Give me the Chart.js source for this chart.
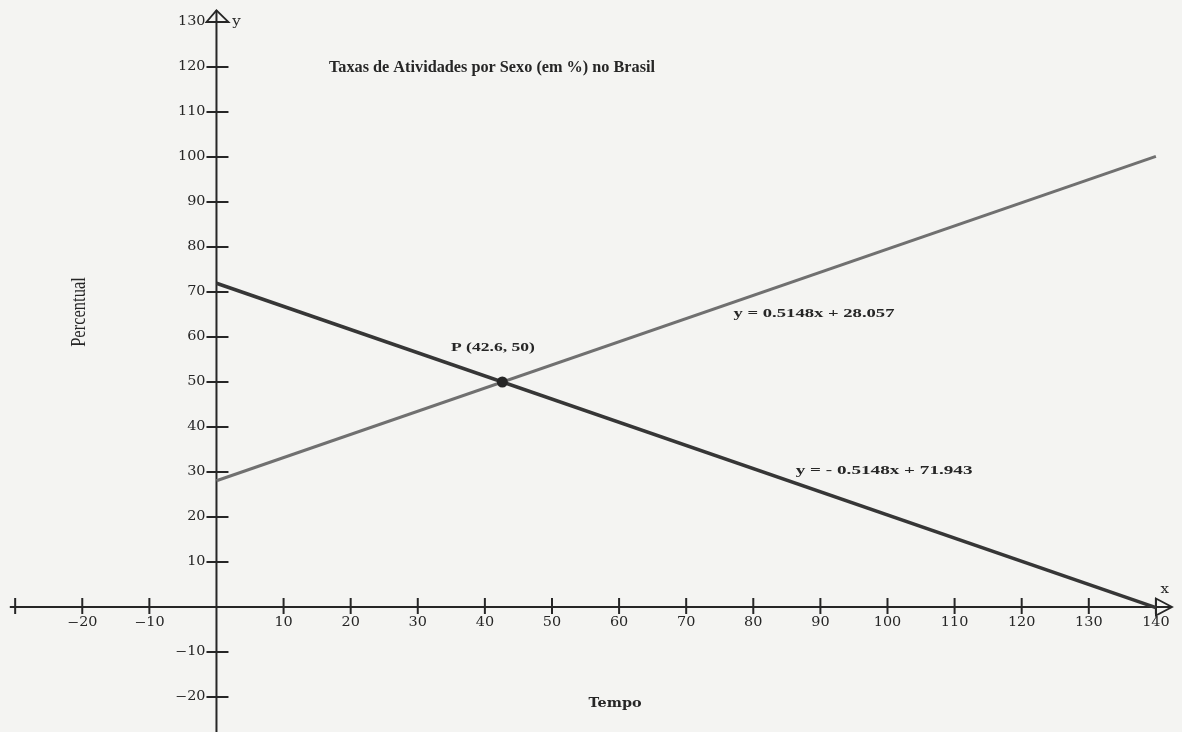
<!DOCTYPE html>
<html>
<head>
<meta charset="utf-8">
<script src="https://cdn.jsdelivr.net/npm/chart.js@4/dist/chart.umd.min.js"></script>
<style>
  html, body { margin: 0; padding: 0; background: #f4f4f2; overflow: hidden; }
  canvas { display: block; }
</style>
</head>
<body>
<canvas id="grafico" width="1182" height="732"></canvas>
<script>
// Tempo (eixo x) e taxas de atividade (%) das duas retas
const tempo = [0, 140];
const taxaFeminina = [28.06, 100.13];   // y = 0.5148x + 28.057
const taxaMasculina = [71.94, -0.13];   // y = - 0.5148x + 71.943
const pontoP = { x: 42.6, y: 50 };

// Marcas dos eixos
const marcasX = [-20, -10, 10, 20, 30, 40, 50, 60, 70, 80, 90, 100, 110, 120, 130, 140];
const marcasY = [-20, -10, 10, 20, 30, 40, 50, 60, 70, 80, 90, 100, 110, 120, 130];

// Textos
const titulo = 'Taxas de Atividades por Sexo (em %) no Brasil';
const rotuloX = 'Tempo';
const rotuloY = 'Percentual';
const equacaoFeminina = 'y = 0.5148x + 28.057';
const equacaoMasculina = 'y = - 0.5148x + 71.943';
const rotuloP = 'P (42.6, 50)';

const TINTA = '#262626';

function texto(ctx, s, px, py, fonte, alinhamento, estica) {
  ctx.save();
  ctx.font = fonte;
  ctx.fillStyle = TINTA;
  ctx.textAlign = alinhamento;
  ctx.textBaseline = 'middle';
  ctx.translate(px, py);
  ctx.scale(estica, 1);
  ctx.fillText(s, 0, 0);
  ctx.restore();
}

function segmento(ctx, x1, y1, x2, y2) {
  ctx.beginPath();
  ctx.moveTo(x1, y1);
  ctx.lineTo(x2, y2);
  ctx.stroke();
}

const fundo = {
  id: 'fundo',
  beforeDraw(chart) {
    const { ctx, width, height } = chart;
    ctx.save();
    ctx.fillStyle = '#f4f4f2';
    ctx.fillRect(0, 0, width, height);
    ctx.restore();
  }
};

// Eixos cartesianos cruzando na origem, com setas e marcas
const eixosCruzados = {
  id: 'eixosCruzados',
  beforeDatasetsDraw(chart) {
    const { ctx, chartArea, scales: { x, y } } = chart;
    const x0 = x.getPixelForValue(0);
    const y0 = y.getPixelForValue(0);
    ctx.save();
    ctx.strokeStyle = TINTA;
    ctx.lineWidth = 2;
    ctx.lineCap = 'butt';

    // eixo x
    const xIni = x.getPixelForValue(-30.8);
    const xPonta = x.getPixelForValue(142.4);
    segmento(ctx, xIni, y0, xPonta, y0);
    // eixo y
    const yPonta = y.getPixelForValue(132.6);
    segmento(ctx, x0, chartArea.bottom, x0, yPonta);

    // marcas do eixo x (atravessam o eixo)
    [-30].concat(marcasX).forEach(v => {
      const px = x.getPixelForValue(v);
      segmento(ctx, px, y0 - 9, px, y0 + 7);
    });
    // marcas do eixo y
    marcasY.forEach(v => {
      const py = y.getPixelForValue(v);
      segmento(ctx, x0 - 10, py, x0 + 12, py);
    });

    // setas abertas nas extremidades
    ctx.lineWidth = 1.8;
    const b140 = x.getPixelForValue(140);
    ctx.beginPath();
    ctx.moveTo(b140, y0 - 8.5);
    ctx.lineTo(xPonta, y0);
    ctx.lineTo(b140, y0 + 8.5);
    ctx.closePath();
    ctx.stroke();

    const b130 = y.getPixelForValue(130);
    ctx.beginPath();
    ctx.moveTo(x0 - 10, b130);
    ctx.lineTo(x0, yPonta);
    ctx.lineTo(x0 + 12, b130);
    ctx.closePath();
    ctx.stroke();
    ctx.restore();

    // números das marcas
    const fonteMarcas = '12px "DejaVu Serif"';
    marcasX.forEach(v => {
      const rot = v < 0 ? '\u2212' + Math.abs(v) : String(v);
      texto(ctx, rot, x.getPixelForValue(v), y0 + 16, fonteMarcas, 'center', 1.2);
    });
    marcasY.forEach(v => {
      const rot = v < 0 ? '\u2212' + Math.abs(v) : String(v);
      texto(ctx, rot, x0 - 11, y.getPixelForValue(v), fonteMarcas, 'right', 1.2);
    });

    // nomes dos eixos junto às setas
    texto(ctx, 'y', x0 + 20, y.getPixelForValue(130), '12px "DejaVu Serif"', 'center', 1.25);
    texto(ctx, 'x', x.getPixelForValue(141.3), y0 - 17, '12px "DejaVu Serif"', 'center', 1.25);
  },
  afterDatasetsDraw(chart) {
    const { ctx, scales: { x, y } } = chart;
    const serifNegrito = 'bold 13.5px "Liberation Serif"';

    texto(ctx, titulo, 492, 68, 'bold 16px "Liberation Serif"', 'center', 1.015);
    texto(ctx, equacaoFeminina, x.getPixelForValue(89.05), y.getPixelForValue(65.3), serifNegrito, 'center', 1.38);
    texto(ctx, equacaoMasculina, x.getPixelForValue(99.5), y.getPixelForValue(30.4), serifNegrito, 'center', 1.42);
    texto(ctx, rotuloP, x.getPixelForValue(41.2), y.getPixelForValue(57.6), serifNegrito, 'center', 1.3);
    texto(ctx, rotuloX, 615, 704, 'bold 12.5px "DejaVu Serif"', 'center', 1.15);

    ctx.save();
    ctx.translate(79, 312);
    ctx.rotate(-Math.PI / 2);
    ctx.scale(1, 1.3);
    ctx.font = '16.5px "Liberation Serif"';
    ctx.fillStyle = TINTA;
    ctx.textAlign = 'center';
    ctx.textBaseline = 'middle';
    ctx.fillText(rotuloY, 0, 0);
    ctx.restore();
  }
};

const pares = (xs, ys) => xs.map((v, i) => ({ x: v, y: ys[i] }));

new Chart(document.getElementById('grafico'), {
  type: 'scatter',
  data: {
    datasets: [
      {
        label: 'Feminina',
        data: pares(tempo, taxaFeminina),
        showLine: true,
        borderColor: '#707070',
        borderWidth: 3,
        pointRadius: 0,
        order: 3
      },
      {
        label: 'Masculina',
        data: pares(tempo, taxaMasculina),
        showLine: true,
        borderColor: '#363636',
        borderWidth: 3.5,
        pointRadius: 0,
        order: 2
      },
      {
        label: 'P',
        data: [pontoP],
        pointRadius: 5.5,
        backgroundColor: '#252525',
        borderWidth: 0,
        order: 1
      }
    ]
  },
  options: {
    responsive: false,
    devicePixelRatio: 1,
    animation: false,
    layout: { padding: 0, autoPadding: false },
    scales: {
      x: { type: 'linear', min: -32.26, max: 143.89, display: false },
      y: { type: 'linear', min: -27.78, max: 134.89, display: false }
    },
    plugins: {
      legend: { display: false },
      tooltip: { enabled: false },
      title: { display: false }
    }
  },
  plugins: [fundo, eixosCruzados]
});
</script>
</body>
</html>
